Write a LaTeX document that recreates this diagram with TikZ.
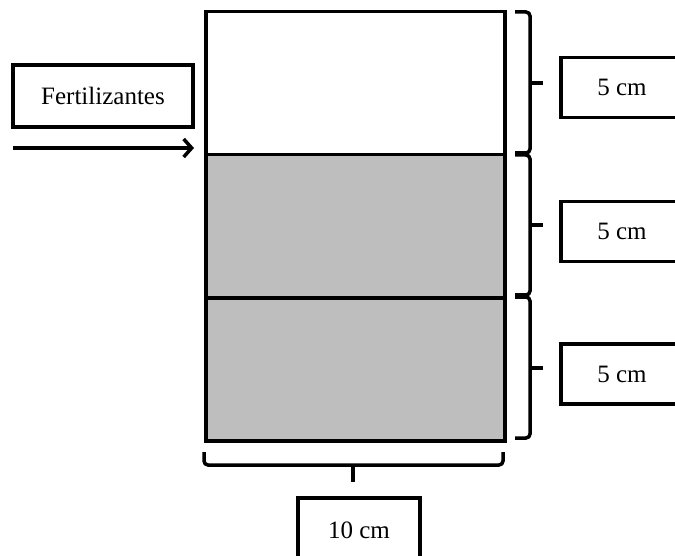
\documentclass[tikz,border=0pt]{standalone}
\usepackage{fontspec}
\setmainfont{Liberation Serif}
\usetikzlibrary{arrows.meta}
\definecolor{soil}{RGB}{190,190,190}
\tikzset{
  every node/.style={font=\fontsize{25}{29}\selectfont, inner sep=0pt},
  layer/.style={draw, line width=3.5pt, minimum width=299pt, minimum height=143pt, anchor=north west},
  labelbox/.style={draw, line width=3.5pt, minimum width=122pt, minimum height=60pt},
  bracket/.style={line width=3.5pt, rounded corners=4pt},
  tipline/.style={line width=3.5pt},
}
\begin{document}
\begin{tikzpicture}[x=1pt,y=-1pt]
\useasboundingbox (0,0) rectangle (675,556);
% layers
\node[layer, fill=white] (top) at (204,10) {};
\node[layer, fill=soil] (mid) at (204,153) {};
\node[layer, fill=soil] (bot) at (204,296) {};
% labels
\node[labelbox, minimum width=180pt, minimum height=62pt] (fert) at (103,96) {Fertilizantes};
\node[labelbox] (l1) at (622,87.5) {5 cm};
\node[labelbox] (l2) at (622,231.5) {5 cm};
\node[labelbox] (l3) at (622,374) {5 cm};
\node[labelbox, minimum height=64pt] (l4) at (359,530) {10 cm};
% arrow
\coordinate (as) at (13,148);
\coordinate (ae) at (194,148);
\draw[tipline, -{Straight Barb[length=8pt,width=18pt,line width=3.5pt]}] (as) -- (ae);
% right brackets
\draw[bracket] (515,12) -- (530,12) -- (530,153) -- (515,153);
\draw[tipline] (530,83) -- (543,83);
\draw[bracket] (515,155) -- (530,155) -- (530,295) -- (515,295);
\draw[tipline] (530,225) -- (543,225);
\draw[bracket] (515,297) -- (530,297) -- (530,438) -- (515,438);
\draw[tipline] (530,368) -- (543,368);
% bottom bracket
\draw[bracket] (204,452) -- (204,465) -- (503,465) -- (503,452);
\draw[tipline] (353,465) -- (353,482);
\end{tikzpicture}
\end{document}
